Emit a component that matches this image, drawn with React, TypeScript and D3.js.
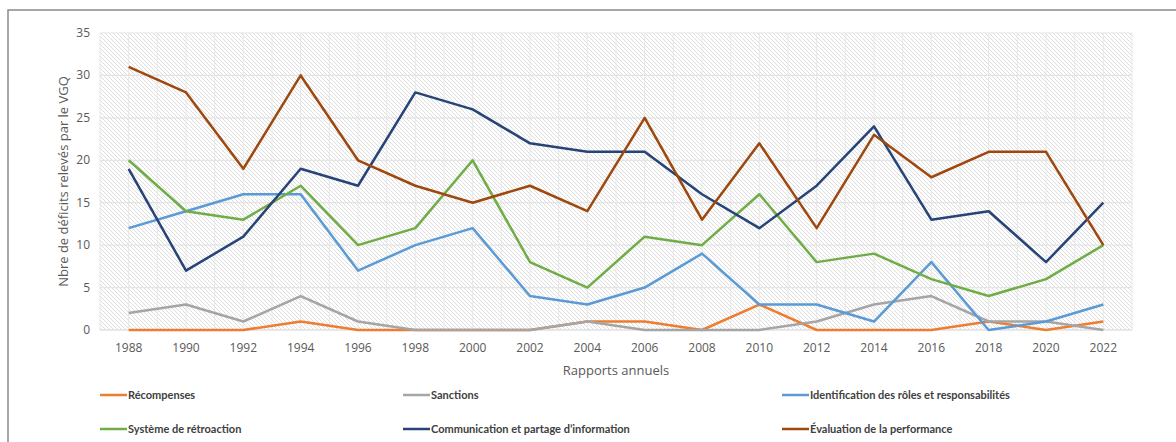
import React, { useEffect, useRef } from "react";
import * as d3 from "d3";

const years = ["1988", "1990", "1992", "1994", "1996", "1998", "2000", "2002", "2004", "2006", "2008", "2010", "2012", "2014", "2016", "2018", "2020", "2022"];

const recompenses = [0, 0, 0, 1, 0, 0, 0, 0, 1, 1, 0, 3, 0, 0, 0, 1, 0, 1];
const sanctions = [2, 3, 1, 4, 1, 0, 0, 0, 1, 0, 0, 0, 1, 3, 4, 1, 1, 0];
const identification = [12, 14, 16, 16, 7, 10, 12, 4, 3, 5, 9, 3, 3, 1, 8, 0, 1, 3];
const retroaction = [20, 14, 13, 17, 10, 12, 20, 8, 5, 11, 10, 16, 8, 9, 6, 4, 6, 10];
const communication = [19, 7, 11, 19, 17, 28, 26, 22, 21, 21, 16, 12, 17, 24, 13, 14, 8, 15];
const evaluation = [31, 28, 19, 30, 20, 17, 15, 17, 14, 25, 13, 22, 12, 23, 18, 21, 21, 10];

const yTicks = [0, 5, 10, 15, 20, 25, 30, 35];

const series = [
  { name: "Récompenses", color: "#ED7D31", values: recompenses },
  { name: "Sanctions", color: "#A5A5A5", values: sanctions },
  { name: "Identification des rôles et responsabilités", color: "#5B9BD5", values: identification },
  { name: "Système de rétroaction", color: "#70AD47", values: retroaction },
  { name: "Communication et partage d’information", color: "#264478", values: communication },
  { name: "Évaluation de la performance", color: "#9E480E", values: evaluation },
];

const W = 1176;
const H = 442;

const App: React.FC = () => {
  const svgRef = useRef<SVGSVGElement | null>(null);

  useEffect(() => {
    if (!svgRef.current) return;
    const svg = d3.select(svgRef.current);
    svg.selectAll("*").remove();

    const left = 100, right = 1132, top = 33, bottom = 330;

    const x = d3.scaleBand<string>().domain(years).range([left, right]);
    const y = d3.scaleLinear().domain([0, 35]).range([bottom, top]);
    const cx = (d: string) => (x(d) || 0) + x.bandwidth() / 2;

    // hatch pattern
    const defs = svg.append("defs");
    const pat = defs
      .append("pattern")
      .attr("id", "hatch")
      .attr("patternUnits", "userSpaceOnUse")
      .attr("width", 4)
      .attr("height", 4);
    pat.append("rect").attr("width", 4).attr("height", 4).attr("fill", "#ffffff");
    pat
      .append("path")
      .attr("d", "M-1,-1 L5,5 M-1,3 L1,5 M3,-1 L5,1")
      .attr("stroke", "#d9d9d9")
      .attr("stroke-width", 0.9);

    // outer frame
    svg
      .append("rect")
      .attr("x", 8)
      .attr("y", 10)
      .attr("width", 1300)
      .attr("height", 600)
      .attr("fill", "#fff")
      .attr("stroke", "#8a8a8a")
      .attr("stroke-width", 1.5);

    svg
      .append("rect")
      .attr("x", left)
      .attr("y", top)
      .attr("width", right - left)
      .attr("height", bottom - top)
      .attr("fill", "url(#hatch)");

    // grid
    const half = x.bandwidth() / 2;
    const vx = d3.range(0, years.length * 2 + 1).map((i) => left + i * half);
    svg
      .append("g")
      .selectAll("line")
      .data(vx)
      .enter()
      .append("line")
      .attr("x1", (d) => d)
      .attr("x2", (d) => d)
      .attr("y1", top)
      .attr("y2", bottom)
      .attr("stroke", "#e8e8e8")
      .attr("stroke-width", 1);

    svg
      .append("g")
      .selectAll("line")
      .data(yTicks)
      .enter()
      .append("line")
      .attr("x1", left)
      .attr("x2", right)
      .attr("y1", (d) => y(d))
      .attr("y2", (d) => y(d))
      .attr("stroke", (d) => (d === 0 ? "#d4d4d4" : "#e4e4e4"))
      .attr("stroke-width", 1.2);

    // axes labels
    const font = "'Open Sans', sans-serif";
    svg
      .append("g")
      .selectAll("text")
      .data(yTicks)
      .enter()
      .append("text")
      .attr("x", left - 10)
      .attr("y", (d) => y(d) + 4)
      .attr("text-anchor", "end")
      .attr("font-family", font)
      .attr("font-size", 12)
      .attr("fill", "#595959")
      .text((d) => d);

    svg
      .append("g")
      .selectAll("text")
      .data(years)
      .enter()
      .append("text")
      .attr("x", (d) => cx(d))
      .attr("y", bottom + 22)
      .attr("text-anchor", "middle")
      .attr("font-family", font)
      .attr("font-size", 12)
      .attr("fill", "#595959")
      .text((d) => d);

    svg
      .append("text")
      .attr("x", (left + right) / 2)
      .attr("y", 375)
      .attr("text-anchor", "middle")
      .attr("font-family", font)
      .attr("font-size", 13)
      .attr("fill", "#595959")
      .text("Rapports annuels");

    svg
      .append("text")
      .attr("transform", `translate(68,${(top + bottom) / 2}) rotate(-90)`)
      .attr("text-anchor", "middle")
      .attr("font-family", font)
      .attr("font-size", 13)
      .attr("fill", "#595959")
      .text("Nbre de déficits relevés par le VGQ");

    // lines
    const line = d3
      .line<number>()
      .x((_, i) => cx(years[i]))
      .y((d) => y(d));

    svg
      .append("g")
      .selectAll("path")
      .data(series)
      .enter()
      .append("path")
      .attr("d", (s) => line(s.values))
      .attr("fill", "none")
      .attr("stroke", (s) => s.color)
      .attr("stroke-width", 2.5)
      .attr("stroke-linejoin", "round");

    // legend
    const colX = [100, 403, 782];
    const rowY = [395, 429];
    const lg = svg
      .append("g")
      .selectAll("g")
      .data(series)
      .enter()
      .append("g")
      .attr("transform", (_, i) => `translate(${colX[i % 3]},${rowY[Math.floor(i / 3)]})`);
    lg.append("line")
      .attr("x1", 0)
      .attr("x2", 27)
      .attr("y1", 0)
      .attr("y2", 0)
      .attr("stroke", (s) => s.color)
      .attr("stroke-width", 2.5);
    lg.append("text")
      .attr("x", 28)
      .attr("y", 4)
      .attr("font-family", "Lato, sans-serif")
      .attr("font-weight", "bold")
      .attr("font-size", 11)
      .attr("fill", "#404040")
      .text((s) => s.name);
  }, []);

  return (
    <svg
      ref={svgRef}
      width={W}
      height={H}
      style={{ position: "absolute", left: 0, top: 0 }}
    />
  );
};

export default App;
